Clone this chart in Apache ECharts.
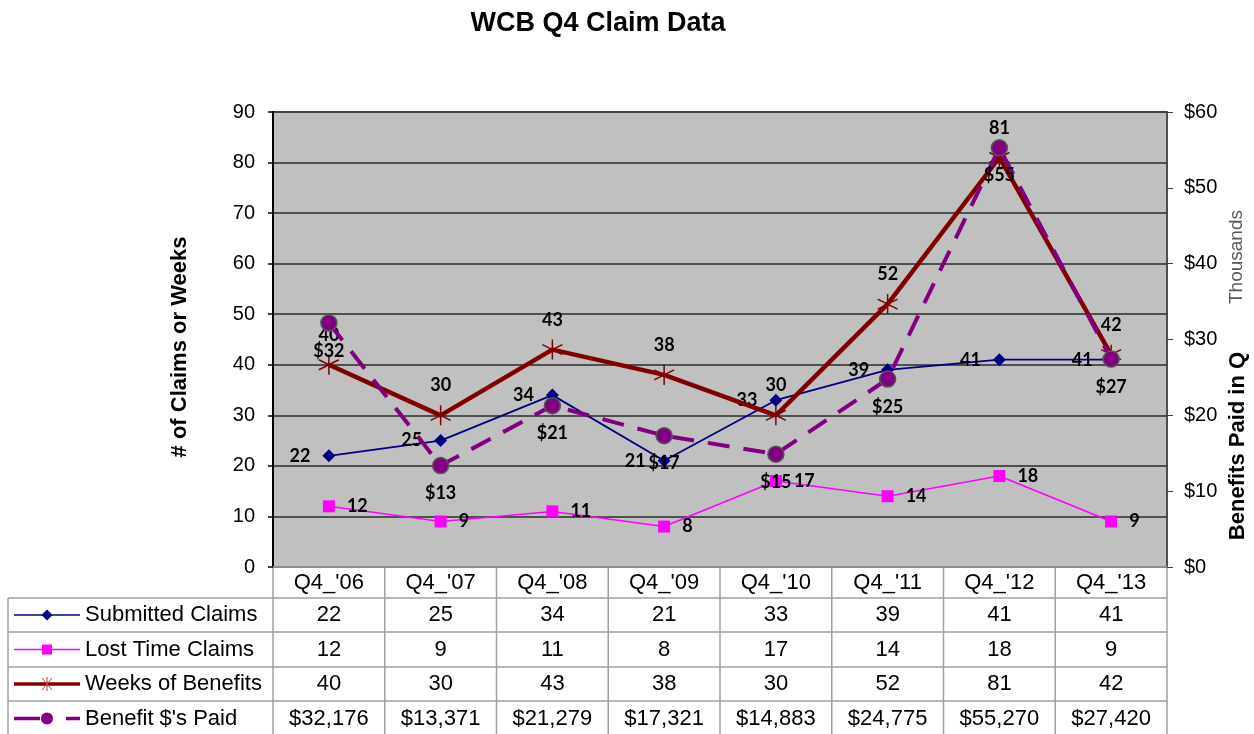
<!DOCTYPE html>
<html><head><meta charset="utf-8">
<script src="https://cdn.jsdelivr.net/npm/echarts@6/dist/echarts.min.js"></script>
<style>html,body{margin:0;padding:0;background:#fff}#c{width:1254px;height:734px}</style>
</head><body><div id="c"></div>
<script>
const categories = ["Q4_'06", "Q4_'07", "Q4_'08", "Q4_'09", "Q4_'10", "Q4_'11", "Q4_'12", "Q4_'13"];
const seriesNames = ["Submitted Claims", "Lost Time Claims", "Weeks of Benefits", "Benefit $'s Paid"];
const submittedClaims = [22, 25, 34, 21, 33, 39, 41, 41];
const lostTimeClaims = [12, 9, 11, 8, 17, 14, 18, 9];
const weeksOfBenefits = [40, 30, 43, 38, 30, 52, 81, 42];
const benefitsPaid = [32176, 13371, 21279, 17321, 14883, 24775, 55270, 27420];
const leftAxis = {min: 0, max: 90, interval: 10};
const rightAxisThousands = {min: 0, max: 60, interval: 10};

const FONT = "'Liberation Sans', Arial, sans-serif";
const LBL = {fontFamily: "Lato, 'Open Sans', sans-serif", fontWeight: 'bold', fontSize: 18, color: '#000'};

const colors = ['#000080', '#ff00ff', '#800000', '#800080'];

// layout
const plotL = 273, plotR = 1167, plotT = 112, plotB = 567;
const colW = (plotR - plotL) / categories.length;
const tableL = 8;
const rowLines = [598, 632, 667, 701, 736];

const chart = echarts.init(document.getElementById('c'));

const graphics = [];
graphics.push({type: 'text', x: 598, y: 24, style: {text: 'WCB Q4 Claim Data', font: 'bold 27px ' + FONT, fill: '#000', textAlign: 'center', textVerticalAlign: 'middle'}});
graphics.push({type: 'text', x: 180, y: 347, rotation: Math.PI / 2, style: {text: '# of Claims or Weeks', font: 'bold 22px ' + FONT, fill: '#000', textAlign: 'center', textVerticalAlign: 'middle'}});
graphics.push({type: 'text', x: 1238, y: 446, rotation: Math.PI / 2, style: {text: 'Benefits Paid in Q', font: 'bold 22px ' + FONT, fill: '#000', textAlign: 'center', textVerticalAlign: 'middle'}});
graphics.push({type: 'text', x: 1237, y: 257, rotation: Math.PI / 2, style: {text: 'Thousands', font: '19px ' + FONT, fill: '#595959', textAlign: 'center', textVerticalAlign: 'middle'}});

const gridLine = {stroke: '#a0a0a0', lineWidth: 1.5};
rowLines.forEach(y => graphics.push({type: 'line', shape: {x1: tableL, y1: y, x2: plotR, y2: y}, style: gridLine, silent: true}));
graphics.push({type: 'line', shape: {x1: tableL, y1: rowLines[0], x2: tableL, y2: 736}, style: gridLine});
for (let k = 0; k <= categories.length; k++) {
  const x = plotL + k * colW;
  graphics.push({type: 'line', shape: {x1: x, y1: plotB, x2: x, y2: 736}, style: gridLine});
}
const rowData = [
  submittedClaims.map(String),
  lostTimeClaims.map(String),
  weeksOfBenefits.map(String),
  benefitsPaid.map(v => '$' + v.toLocaleString('en-US'))
];
rowData.forEach((vals, r) => {
  const cy = (rowLines[r] + rowLines[r + 1]) / 2;
  vals.forEach((t, i) => {
    graphics.push({type: 'text', x: plotL + (i + 0.5) * colW, y: cy, style: {text: t, font: '22px ' + FONT, fill: '#000', textAlign: 'center', textVerticalAlign: 'middle'}});
  });
  graphics.push({type: 'text', x: 85, y: cy, style: {text: seriesNames[r], font: '22px ' + FONT, fill: '#000', textAlign: 'left', textVerticalAlign: 'middle'}});
  const c = colors[r];
  if (r === 0) {
    graphics.push({type: 'line', shape: {x1: 14, y1: cy, x2: 80, y2: cy}, style: {stroke: c, lineWidth: 1.5}});
    graphics.push({type: 'polygon', shape: {points: [[47, cy - 5.5], [52.5, cy], [47, cy + 5.5], [41.5, cy]]}, style: {fill: c}});
  } else if (r === 1) {
    graphics.push({type: 'line', shape: {x1: 14, y1: cy, x2: 80, y2: cy}, style: {stroke: c, lineWidth: 1.5}});
    graphics.push({type: 'rect', shape: {x: 42, y: cy - 5, width: 10, height: 10}, style: {fill: c}});
  } else if (r === 2) {
    graphics.push({type: 'line', shape: {x1: 14, y1: cy, x2: 80, y2: cy}, style: {stroke: c, lineWidth: 3.5}});
    graphics.push({type: 'polyline', shape: {points: [[47, cy - 7], [47, cy + 7]]}, style: {stroke: '#c04040', lineWidth: 1}});
    graphics.push({type: 'polyline', shape: {points: [[42, cy - 6], [52, cy + 6]]}, style: {stroke: '#c04040', lineWidth: 1}});
    graphics.push({type: 'polyline', shape: {points: [[52, cy - 6], [42, cy + 6]]}, style: {stroke: '#c04040', lineWidth: 1}});
  } else {
    graphics.push({type: 'line', shape: {x1: 14, y1: cy, x2: 40, y2: cy}, style: {stroke: c, lineWidth: 3.5}});
    graphics.push({type: 'line', shape: {x1: 66, y1: cy, x2: 80, y2: cy}, style: {stroke: c, lineWidth: 3.5}});
    graphics.push({type: 'circle', shape: {cx: 47, cy: cy, r: 6}, style: {fill: c}});
  }
});

const asterisk = 'path://M0,-10L0,10M-8.7,-5L8.7,5M-8.7,5L8.7,-5';

const option = {
  animation: false,
  backgroundColor: '#fff',
  grid: {left: plotL, right: 1254 - plotR, top: plotT, bottom: 734 - plotB, show: true, backgroundColor: '#c0c0c0', borderColor: '#8c8c8c', borderWidth: 2},
  xAxis: {
    type: 'category', data: categories, boundaryGap: true,
    axisLine: {show: true, lineStyle: {color: '#8c8c8c', width: 2}},
    axisTick: {show: false},
    axisLabel: {fontFamily: FONT, fontSize: 22, color: '#000', margin: 5},
    splitLine: {show: false}
  },
  yAxis: [
    {
      type: 'value', position: 'left', min: leftAxis.min, max: leftAxis.max, interval: leftAxis.interval,
      axisLine: {show: true, lineStyle: {color: '#000', width: 2}},
      axisTick: {show: true, length: 5, lineStyle: {color: '#000', width: 1.5}},
      axisLabel: {fontFamily: FONT, fontSize: 20, color: '#000', margin: 18},
      splitLine: {show: true, lineStyle: {color: '#2a2a2a', width: 1.5}}
    },
    {
      type: 'value', position: 'right', min: rightAxisThousands.min, max: rightAxisThousands.max, interval: rightAxisThousands.interval,
      axisLine: {show: true, lineStyle: {color: '#3a3a3a', width: 1.5}},
      axisTick: {show: true, length: 6, lineStyle: {color: '#3a3a3a', width: 1}},
      axisLabel: {fontFamily: FONT, fontSize: 20, color: '#000', margin: 17, formatter: v => '$' + v},
      splitLine: {show: false}
    }
  ],
  series: [
    {
      name: seriesNames[0], type: 'line', data: submittedClaims, yAxisIndex: 0, z: 2,
      lineStyle: {color: colors[0], width: 1.8}, itemStyle: {color: colors[0]},
      symbol: 'diamond', symbolSize: 13,
      label: Object.assign({show: true, position: 'left', distance: 12}, LBL)
    },
    {
      name: seriesNames[1], type: 'line', data: lostTimeClaims, yAxisIndex: 0, z: 3,
      lineStyle: {color: colors[1], width: 1.5}, itemStyle: {color: colors[1]},
      symbol: 'rect', symbolSize: 12,
      label: Object.assign({show: true, position: 'right', distance: 12}, LBL)
    },
    {
      name: seriesNames[2], type: 'line', data: weeksOfBenefits, yAxisIndex: 0, z: 4,
      lineStyle: {color: colors[2], width: 4.5}, itemStyle: {color: colors[2], borderColor: colors[2], borderWidth: 1.5},
      symbol: asterisk, symbolSize: 20,
      label: Object.assign({show: true, position: 'top', distance: 10}, LBL)
    },
    {
      name: seriesNames[3], type: 'line', data: benefitsPaid.map(v => v / 1000), yAxisIndex: 1, z: 5,
      lineStyle: {color: colors[3], width: 4, type: [22, 14]}, itemStyle: {color: colors[3], borderColor: '#555', borderWidth: 1.5},
      symbol: 'circle', symbolSize: 16,
      label: Object.assign({show: true, position: 'bottom', distance: 10, formatter: p => '$' + Math.round(p.value)}, LBL)
    }
  ],
  graphic: graphics
};
chart.setOption(option);
</script>
</body></html>
